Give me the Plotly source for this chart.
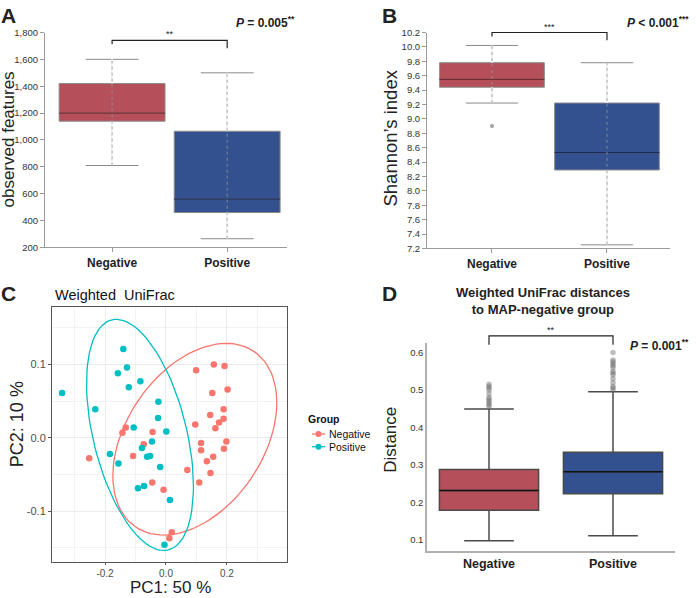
import numpy as np
import plotly.graph_objects as go

W, H = 696, 598
FONT = "Liberation Sans, Arial, Helvetica, sans-serif"

groups = ["Negative", "Positive"]
group_pos = [0, 1]

# ---------------- Panel A: observed features ----------------
obs_lower = [810, 265]
obs_q1 = [1140, 460]
obs_median = [1200, 560]
obs_q3 = [1420, 1065]
obs_upper = [1600, 1500]
obs_ticks = [200, 400, 600, 800, 1000, 1200, 1400, 1600, 1800]

# ---------------- Panel B: Shannon index ----------------
sh_lower = [9.22, 7.25]
sh_q1 = [9.44, 8.29]
sh_median = [9.55, 8.53]
sh_q3 = [9.78, 9.22]
sh_upper = [10.02, 9.78]
sh_outlier_neg = [8.90]

# ---------------- Panel C: PCoA ----------------
neg_pc1 = [0.099, 0.157, 0.192, 0.202, 0.152, 0.189, 0.145, 0.189, 0.174, 0.162,
           0.096, 0.198, 0.115, 0.190, 0.115, 0.155, 0.134, 0.146, 0.070, 0.109,
           -0.008, -0.045, -0.044, -0.073, -0.108, -0.132, -0.143, -0.252, 0.019, 0.011]
neg_pc2 = [0.092, 0.100, 0.098, 0.066, 0.061, 0.039, 0.031, 0.026, 0.021, 0.013,
           0.018, -0.005, -0.007, -0.015, -0.017, -0.026, -0.032, -0.048, -0.044, -0.061,
           -0.071, -0.061, 0.008, -0.009, -0.025, 0.014, 0.007, -0.028, -0.129, -0.137]
pos_pc1 = [-0.341, -0.232, -0.140, -0.158, -0.128, -0.122, -0.084, -0.025, -0.026, -0.106,
           0.001, -0.046, -0.184, -0.079, -0.156, -0.062, -0.052, -0.019, -0.092, -0.072,
           0.013, -0.005]
pos_pc2 = [0.061, 0.039, 0.121, 0.088, 0.096, 0.069, 0.077, 0.049, 0.027, 0.014,
           0.0085, -0.005, -0.022, -0.014, -0.035, -0.026, -0.025, -0.040, -0.069, -0.066,
           -0.085, -0.146]
pc_xticks = [-0.2, 0.0, 0.2]
pc_xticktext = ["-0.2", "0.0", "0.2"]
pc_yticks = [-0.1, 0.0, 0.1]
pc_yticktext = ["-0.1", "0.0", "0.1"]

# ---------------- Panel D: distances ----------------
d_lower = [0.098, 0.111]
d_q1 = [0.179, 0.223]
d_median = [0.232, 0.282]
d_q3 = [0.288, 0.334]
d_upper = [0.449, 0.495]
d_out_neg = [0.455, 0.46, 0.465, 0.47, 0.475, 0.48, 0.49, 0.50, 0.505, 0.51, 0.515]
d_out_pos = [0.50, 0.505, 0.51, 0.52, 0.53, 0.54, 0.545, 0.55, 0.56, 0.565,
             0.57, 0.575, 0.58, 0.60]
d_ticks = [0.1, 0.2, 0.3, 0.4, 0.5, 0.6]

# ---------------- styles ----------------
box_fill = ["#B54F59", "#33508F"]
median_col = ["#732A33", "#1C2B57"]
pc_col = ["#F8766D", "#00BFC4"]


def px_x(p):
    return p / W


def px_y(p):
    return 1 - p / H


def cov_trob(X, nu=5, maxit=25, tol=0.01):
    n, p = X.shape
    loc = X.mean(axis=0)
    w = np.ones(n)
    Xc = X - loc
    for _ in range(maxit):
        w0 = w
        Xc = X - loc
        A = np.sqrt(w / w.sum())[:, None] * Xc
        _, d, vt = np.linalg.svd(A, full_matrices=False)
        wX = Xc @ vt.T @ np.diag(1.0 / d)
        Q = (wX ** 2).sum(axis=1)
        w = (nu + p) / (nu + Q)
        loc = (w[:, None] * X).sum(axis=0) / w.sum()
        if np.all(np.abs(w - w0) < tol):
            break
    sw = np.sqrt(w)[:, None] * Xc
    return loc, sw.T @ sw / n


def stat_ellipse(x, y, level=0.95, segments=101):
    X = np.column_stack([x, y])
    n = len(x)
    center, shape = cov_trob(X)
    dfd = n - 1
    qf = (dfd / 2) * ((1 - level) ** (-2 / dfd) - 1)
    radius = np.sqrt(2 * qf)
    R = np.linalg.cholesky(shape).T
    ang = np.linspace(0, 2 * np.pi, segments)
    circ = np.column_stack([np.cos(ang), np.sin(ang)])
    pts = center + radius * circ @ R
    return pts[:, 0], pts[:, 1]


fig = go.Figure()


def add_excel_box(xa, ya, lower, q1, med, q3, upper, bw):
    for i in range(2):
        fig.add_trace(go.Box(
            x=[group_pos[i]], q1=[q1[i]], median=[med[i]], q3=[q3[i]],
            lowerfence=[lower[i]], upperfence=[upper[i]],
            width=bw, whiskerwidth=0.5, boxpoints=False,
            fillcolor=box_fill[i], line=dict(color="#8a8a8a", width=1),
            xaxis=xa, yaxis=ya, showlegend=False, hoverinfo="skip"))
        xi = group_pos[i]
        fig.add_trace(go.Scatter(
            x=[xi - bw / 2, xi + bw / 2], y=[med[i], med[i]], mode="lines",
            line=dict(color=median_col[i], width=1.2), xaxis=xa, yaxis=ya,
            showlegend=False, hoverinfo="skip"))
        fig.add_trace(go.Scatter(
            x=[xi, xi, None, xi, xi], y=[lower[i], q1[i], None, q3[i], upper[i]],
            mode="lines", line=dict(color="white", width=1.6), xaxis=xa, yaxis=ya,
            showlegend=False, hoverinfo="skip"))
        fig.add_trace(go.Scatter(
            x=[xi, xi], y=[lower[i], upper[i]], mode="lines",
            line=dict(color="rgba(150,150,150,0.8)", width=1, dash="dot"),
            xaxis=xa, yaxis=ya, showlegend=False, hoverinfo="skip"))


add_excel_box("x", "y", obs_lower, obs_q1, obs_median, obs_q3, obs_upper, 0.92)
add_excel_box("x2", "y2", sh_lower, sh_q1, sh_median, sh_q3, sh_upper, 0.91)
fig.add_trace(go.Scatter(
    x=[group_pos[0]] * len(sh_outlier_neg), y=sh_outlier_neg, mode="markers",
    marker=dict(color="#a0a0a0", size=4), xaxis="x2", yaxis="y2",
    showlegend=False, hoverinfo="skip"))

# Panel C
for i, (px, py) in enumerate([(neg_pc1, neg_pc2), (pos_pc1, pos_pc2)]):
    ex, ey = stat_ellipse(np.array(px), np.array(py))
    fig.add_trace(go.Scatter(
        x=ex, y=ey, mode="lines", line=dict(color=pc_col[i], width=1.3),
        xaxis="x3", yaxis="y3", showlegend=False, hoverinfo="skip"))
for i, (px, py) in enumerate([(neg_pc1, neg_pc2), (pos_pc1, pos_pc2)]):
    fig.add_trace(go.Scatter(
        x=px, y=py, mode="markers", marker=dict(color=pc_col[i], size=6.5),
        xaxis="x3", yaxis="y3", showlegend=False, name=groups[i]))

# Panel D
for i in range(2):
    fig.add_trace(go.Box(
        x=[group_pos[i]], q1=[d_q1[i]], median=[d_median[i]], q3=[d_q3[i]],
        lowerfence=[d_lower[i]], upperfence=[d_upper[i]],
        width=0.8, whiskerwidth=0.5, boxpoints=False,
        fillcolor=box_fill[i], line=dict(color="#4a4a4a", width=1.5),
        xaxis="x4", yaxis="y4", showlegend=False, hoverinfo="skip"))
    fig.add_trace(go.Scatter(
        x=[group_pos[i] - 0.4, group_pos[i] + 0.4], y=[d_median[i]] * 2, mode="lines",
        line=dict(color="#111111", width=1.5), xaxis="x4", yaxis="y4",
        showlegend=False, hoverinfo="skip"))
for i, outs in enumerate([d_out_neg, d_out_pos]):
    fig.add_trace(go.Scatter(
        x=[group_pos[i]] * len(outs), y=outs, mode="markers",
        marker=dict(color="rgba(110,110,110,0.45)", size=5.5),
        xaxis="x4", yaxis="y4", showlegend=False, hoverinfo="skip"))

tick_bold = ["<b>%s</b>" % g for g in groups]

excel_x = dict(tickvals=group_pos, ticktext=tick_bold, showline=True, linecolor="#9a9a9a",
               ticks="outside", ticklen=4, tickcolor="#9a9a9a", showgrid=False, zeroline=False,
               tickfont=dict(size=12, color="#222", family=FONT))
excel_y = dict(showline=True, linecolor="#9a9a9a", ticks="outside", ticklen=4,
               tickcolor="#9a9a9a", showgrid=False, zeroline=False,
               tickfont=dict(size=9.5, color="#333", family=FONT))

layout = dict(
    width=W, height=H, autosize=False, margin=dict(l=0, r=0, t=0, b=0, pad=0),
    paper_bgcolor="white", plot_bgcolor="white", boxmode="overlay",
    font=dict(family=FONT, color="#222"),
    xaxis=dict(domain=[px_x(45), px_x(287)], range=[-0.583, 1.52], anchor="y", **excel_x),
    yaxis=dict(domain=[px_y(246), px_y(27)], range=[200, 1800], anchor="x",
               tickvals=obs_ticks, tickformat=",d", **excel_y),
    xaxis2=dict(domain=[px_x(427), px_x(670)], range=[-0.565, 1.548], anchor="y2", **excel_x),
    yaxis2=dict(domain=[px_y(247), px_y(27)], range=[7.2, 10.2], anchor="x2",
                dtick=0.2, tick0=7.2, tickformat=".1f", **excel_y),
    xaxis3=dict(domain=[px_x(52), px_x(287)], range=[-0.374, 0.397], anchor="y3",
                tickvals=pc_xticks, ticktext=pc_xticktext, showline=True, mirror=True,
                linecolor="#555", linewidth=1, ticks="outside", ticklen=2.5, tickcolor="#555",
                showgrid=True, gridcolor="#EBEBEB", gridwidth=1, zeroline=False,
                minor=dict(dtick=0.1, tick0=0, showgrid=True, gridcolor="#F2F2F2", gridwidth=0.6),
                tickfont=dict(size=10, color="#4D4D4D")),
    yaxis3=dict(domain=[px_y(566), px_y(307)], range=[-0.169, 0.178], anchor="x3",
                tickvals=pc_yticks, ticktext=pc_yticktext, showline=True, mirror=True,
                linecolor="#555", linewidth=1, ticks="outside", ticklen=3, tickcolor="#555",
                showgrid=True, gridcolor="#EBEBEB", gridwidth=1, zeroline=False,
                minor=dict(dtick=0.05, tick0=0, showgrid=True, gridcolor="#F2F2F2", gridwidth=0.6),
                tickfont=dict(size=11, color="#4D4D4D")),
    xaxis4=dict(domain=[px_x(427), px_x(675)], range=[-0.5, 1.5], anchor="y4",
                tickvals=group_pos, ticktext=tick_bold, showline=True, linecolor="#b0b0b0",
                linewidth=1.5, ticks="", showgrid=False, zeroline=False,
                tickfont=dict(size=12.5, color="#222")),
    yaxis4=dict(domain=[px_y(555), px_y(343)], range=[0.071, 0.626], anchor="x4",
                tickvals=d_ticks, tickformat=".1f", showline=True, linecolor="#b0b0b0",
                linewidth=1.5, ticks="", showgrid=False, zeroline=False,
                tickfont=dict(size=9.5, color="#333")),
    showlegend=False,
)
fig.update_layout(**layout)

ann = []
shapes = []


def text(x, y, s, size, xanchor="center", yanchor="middle", angle=0, color="#222",
         xref="paper", yref="paper"):
    ann.append(dict(x=x, y=y, text=s, xref=xref, yref=yref, xanchor=xanchor,
                    yanchor=yanchor, showarrow=False, textangle=angle,
                    font=dict(size=size, color=color, family=FONT)))


# panel letters
text(px_x(8), px_y(10), "<b>A</b>", 21)
text(px_x(390), px_y(10), "<b>B</b>", 21)
text(px_x(8), px_y(293), "<b>C</b>", 21)
text(px_x(389), px_y(293), "<b>D</b>", 21)

# axis titles
text(px_x(8), px_y(136), "observed features", 17, angle=-90)
text(px_x(391), px_y(135), "Shannon\u2019s index", 18.5, angle=-90)
text(px_x(17), px_y(426), "PC2: 10 %", 18, angle=-90)
text(px_x(170), px_y(592), "PC1: 50 %", 17)
text(px_x(391), px_y(442), "Distance", 17, angle=-90)

# titles
text(px_x(53), px_y(294), "Weighted&nbsp; UniFrac", 14.5, xanchor="left", color="#111")
text(px_x(543), px_y(301), "<b>Weighted UniFrac distances</b><br><b>to MAP-negative group</b>", 13)

# p values
text(px_x(297), px_y(16), "<b><i>P</i> = 0.005<sup>**</sup></b>", 12, xanchor="right")
text(px_x(691), px_y(16), "<b><i>P</i> < 0.001<sup>***</sup></b>", 12, xanchor="right")
text(px_x(691), px_y(345), "<b><i>P</i> = 0.001<sup>**</sup></b>", 12, xanchor="right")

# significance brackets: (xref, y_top_px, y_left_end_px, y_right_end_px, label, label_y)
brackets = [("x", 35, 39, 43, "**", 29), ("x2", 27, 31, 35, "***", 21), ("x4", 336, 345, 345, "**", 330)]
for xr, yt, yl, yr, lab, ly in brackets:
    shapes.append(dict(type="path", xref=xr, yref="paper",
                       path="M 0,%f L 0,%f L 1,%f L 1,%f" % (px_y(yl), px_y(yt), px_y(yt), px_y(yr)),
                       line=dict(color="#222", width=1.2)))
    text(0.5, px_y(ly), lab, 9, xref=xr)

# legend for panel C
text(px_x(306), px_y(421), "<b>Group</b>", 10.5, xanchor="left", color="#111")
for i, yy in enumerate([436, 449]):
    shapes.append(dict(type="line", xref="paper", yref="paper", x0=px_x(312), x1=px_x(325),
                       y0=px_y(yy), y1=px_y(yy), line=dict(color=pc_col[i], width=1.3)))
    shapes.append(dict(type="circle", xref="paper", yref="paper", x0=px_x(315.5), x1=px_x(321.5),
                       y0=px_y(yy + 3), y1=px_y(yy - 3), fillcolor=pc_col[i], line=dict(width=0)))
    text(px_x(327), px_y(yy), groups[i], 10.5, xanchor="left", color="#111")

fig.update_layout(annotations=ann, shapes=shapes)
fig.write_html("out.html", config={"displayModeBar": False},
               post_script="document.body.style.margin='0';document.body.style.overflow='hidden';")
